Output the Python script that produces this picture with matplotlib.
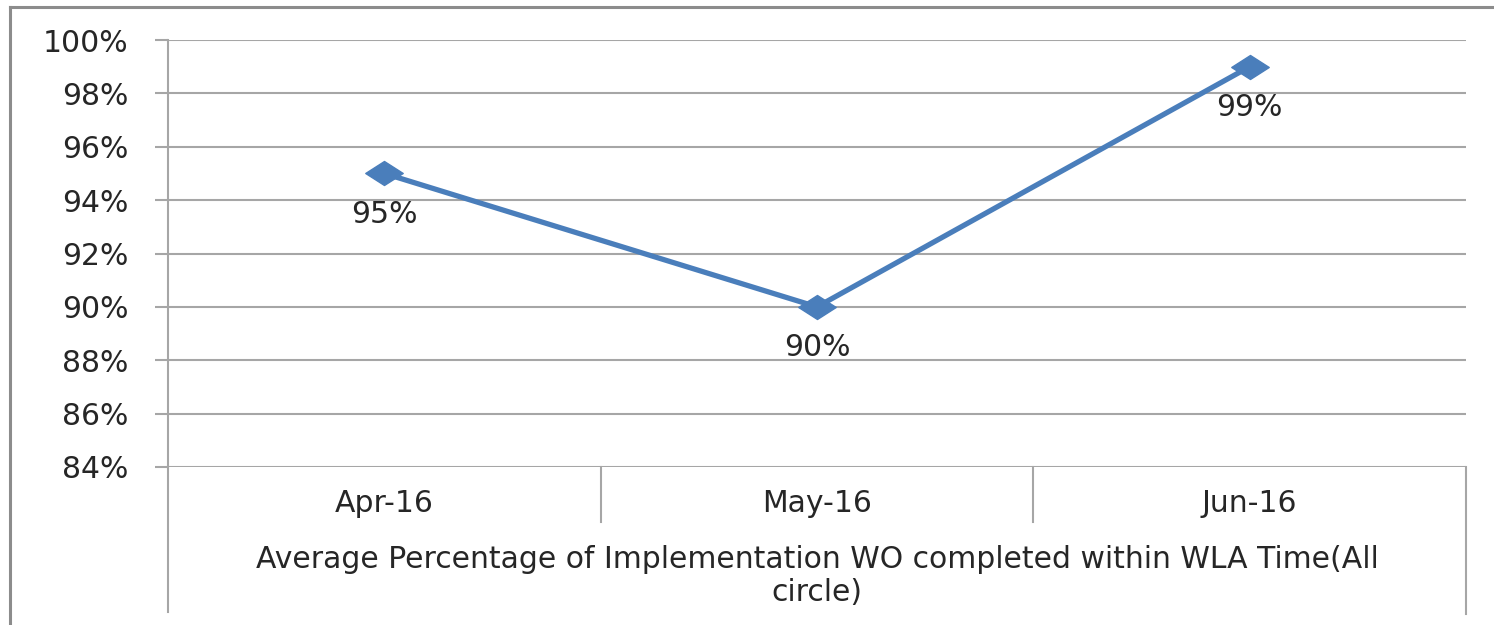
import matplotlib
matplotlib.use("Agg")
import matplotlib.pyplot as plt
from matplotlib.lines import Line2D
from matplotlib.path import Path
from matplotlib.ticker import FuncFormatter

categories = ["Apr-16", "May-16", "Jun-16"]
values = [95, 90, 99]
value_labels = ["95%", "90%", "99%"]
y_ticks = [84, 86, 88, 90, 92, 94, 96, 98, 100]
axis_title = "Average Percentage of Implementation WO completed within WLA Time(All\ncircle)"

plt.rcParams['font.family'] = ['DejaVu Sans']
W, H = 1494, 625
fig = plt.figure(figsize=(W / 100, H / 100), dpi=100)
fig.patch.set_facecolor("white")

left, right, top, bottom = 168, 1466, 40, 467
ax = fig.add_axes([left / W, 1 - bottom / H, (right - left) / W, (bottom - top) / H])

grid_c = "#a6a6a6"
text_c = "#262626"
line_c = "#4a7ebb"
fs = 21.5

x = list(range(len(categories)))
diamond = Path([(-1, 0), (0, 0.64), (1, 0), (0, -0.64), (-1, 0)],
               [Path.MOVETO, Path.LINETO, Path.LINETO, Path.LINETO, Path.CLOSEPOLY])
ax.plot(x, values, color=line_c, lw=3.8, marker=diamond, markersize=27,
        markerfacecolor=line_c, markeredgecolor=line_c, zorder=5, clip_on=False)

for xi, v, lab in zip(x, values, value_labels):
    ax.annotate(lab, (xi, v), xytext=(0, -29.5), textcoords="offset points",
                ha="center", va="center", fontsize=fs, color=text_c, zorder=6)

ax.set_xlim(-0.5, len(categories) - 0.5)
ax.set_ylim(min(y_ticks), max(y_ticks))
ax.set_yticks(y_ticks)
ax.yaxis.set_major_formatter(FuncFormatter(lambda v, p: f"{int(v)}%"))
ax.tick_params(axis="y", length=9.5, width=1.5, color=grid_c, pad=19,
               labelsize=fs, labelcolor=text_c, direction="out")
ax.set_xticks([])
ax.grid(axis="y", color=grid_c, lw=1.5)
ax.set_axisbelow(True)
for s in ["top", "right", "bottom"]:
    ax.spines[s].set_visible(False)
ax.spines["left"].set_color(grid_c)
ax.spines["left"].set_linewidth(1.5)

# category area lines (axes coordinates)
ah = bottom - top
def ay(py):
    return (bottom - py) / ah

ax.add_line(Line2D([0, 0], [0, ay(612)], transform=ax.transAxes, color=grid_c,
                   lw=1.5, clip_on=False))
ax.add_line(Line2D([1, 1], [0, ay(614)], transform=ax.transAxes, color=grid_c,
                   lw=1.5, clip_on=False))
trans = ax.get_xaxis_transform()
for i in range(1, len(categories)):
    ax.add_line(Line2D([i - 0.5, i - 0.5], [0, ay(522)], transform=trans,
                       color=grid_c, lw=1.5, clip_on=False))
for xi, c in zip(x, categories):
    ax.text(xi, ay(503), c, transform=trans, ha="center", va="center",
            fontsize=fs, color=text_c)

ax.text(0.5, ay(576), axis_title, transform=ax.transAxes, ha="center",
        va="center", fontsize=fs, color=text_c, linespacing=1.2)

# outer chart border (top and left visible)
fig.add_artist(Line2D([10 / W, 1], [1 - 7 / H, 1 - 7 / H], color="#8c8c8c",
                      lw=2.2, transform=fig.transFigure))
fig.add_artist(Line2D([10 / W, 10 / W], [1 - 7 / H, 0], color="#8c8c8c",
                      lw=2.2, transform=fig.transFigure))

fig.savefig("out.png", dpi=100, facecolor="white")
